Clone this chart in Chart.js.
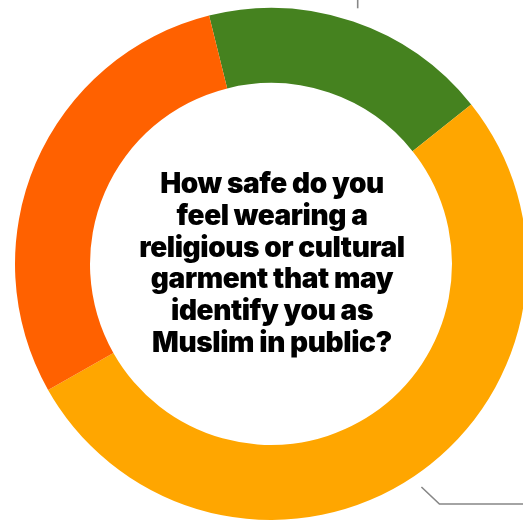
<!doctype html>
<html>
<head>
<meta charset="UTF-8">
<title>Doughnut</title>
<script src="https://cdn.jsdelivr.net/npm/chart.js@4/dist/chart.umd.min.js"></script>
<style>
  html, body { margin: 0; padding: 0; background: #fff; overflow: hidden; }
  #holder { width: 540px; height: 529px; position: relative; }
</style>
</head>
<body>
<div id="holder"><canvas id="chart-area"></canvas></div>
<script>
  // answers, share of respondents (%)
  var labels = ['Very safe / safe', 'Somewhat safe', 'Unsafe'];
  var values = [18, 52, 29];
  var colors = ['#45821f', '#ffa600', '#ff6100'];
  var question = ['How safe do you', 'feel wearing a', 'religious or cultural',
                  'garment that may', 'identify you as', 'Muslim in public?'];

  // centre text + leader lines
  var extras = {
    id: 'extras',
    afterDraw: function (chart) {
      var ctx = chart.ctx;
      var arcs = chart.getDatasetMeta(0).data;
      var a0 = arcs[0];
      var cx = a0.x, cy = a0.y, R = a0.outerRadius;

      ctx.save();
      ctx.fillStyle = '#000';
      ctx.font = '900 28px Inter';
      ctx.textAlign = 'center';
      ctx.textBaseline = 'middle';
      if ('letterSpacing' in ctx) ctx.letterSpacing = '-0.4px';
      for (var i = 0; i < question.length; i++) {
        ctx.fillText(question[i], cx + 1, cy + (i - 2.5) * 31.8);
      }
      ctx.restore();

      ctx.save();
      ctx.strokeStyle = '#878787';
      ctx.lineWidth = 1.6;
      // green slice: straight up
      var m = (a0.startAngle + a0.endAngle) / 2;
      var px = cx + Math.cos(m) * (R + 14), py = cy + Math.sin(m) * (R + 14);
      ctx.beginPath();
      ctx.moveTo(px, py);
      ctx.lineTo(px, 0);
      ctx.stroke();
      // yellow slice: diagonal then right
      var a1 = arcs[1];
      m = (a1.startAngle + a1.endAngle) / 2;
      px = cx + Math.cos(m) * (R + 13); py = cy + Math.sin(m) * (R + 13);
      ctx.beginPath();
      ctx.moveTo(px, py);
      ctx.lineTo(px + 18, py + 17);
      ctx.lineTo(chart.width, py + 17);
      ctx.stroke();
      ctx.restore();
    }
  };

  var config = {
    type: 'doughnut',
    data: {
      labels: labels,
      datasets: [{
        data: values,
        backgroundColor: colors,
        borderWidth: 0
      }]
    },
    options: {
      responsive: true,
      maintainAspectRatio: false,
      animation: false,
      rotation: -14,
      cutout: '70.7%',
      layout: { padding: { left: 15, right: 13, top: 8, bottom: 9 } },
      plugins: {
        legend: { display: false },
        tooltip: { enabled: false }
      }
    },
    plugins: [extras]
  };

  var ctx = document.getElementById('chart-area').getContext('2d');
  window.myDoughnut = new Chart(ctx, config);
</script>
</body>
</html>
